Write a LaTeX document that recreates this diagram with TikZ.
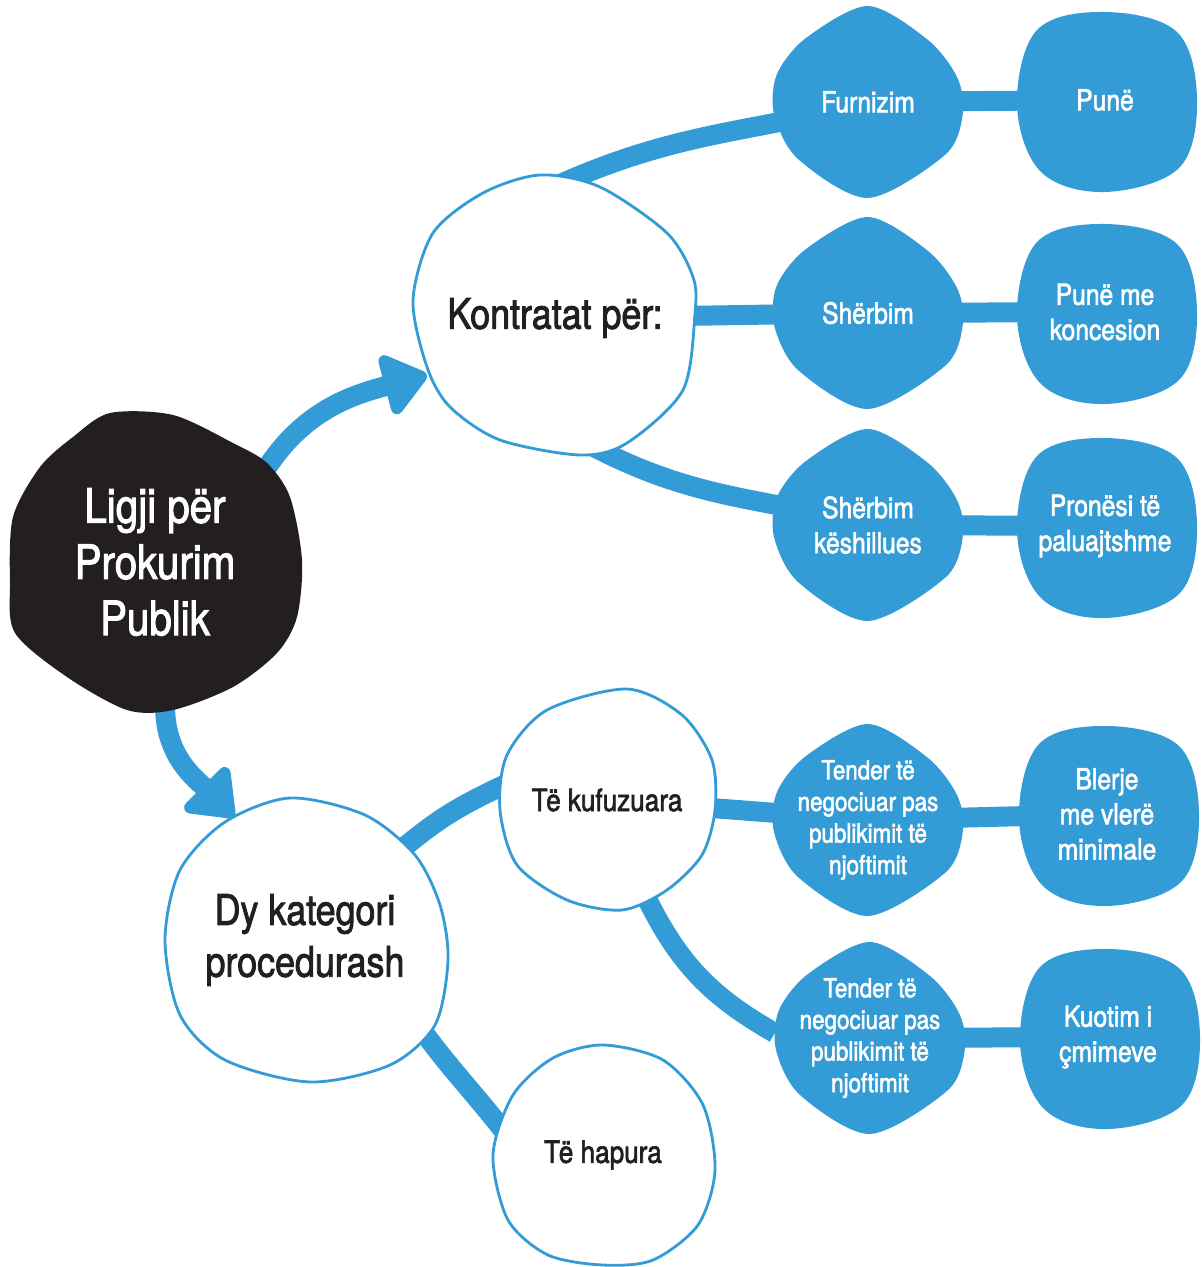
\documentclass[tikz,border=0pt]{standalone}
\usepackage{fontspec}
\setmainfont{TeX Gyre Heros}[FakeStretch=0.85, FakeBold=2]
\usepackage{tikz}
\usetikzlibrary{arrows.meta}
\definecolor{mapblue}{RGB}{51,155,214}
\definecolor{mapink}{RGB}{35,31,32}
\pgfdeclarelayer{links}
\pgfdeclarelayer{blobs}
\pgfsetlayers{links,blobs,main}

\begin{document}
\begin{tikzpicture}[
  x=0.02cm, y=0.02cm,
  every node/.style={font=\fontsize{16.5}{20}\selectfont, align=center, inner sep=0pt},
  core/.style={circle, minimum size=5.8cm, text=white, font=\fontsize{27}{32}\selectfont},
  hub/.style={circle, minimum size=5.6cm, text=mapink, font=\fontsize{24}{29.5}\selectfont},
  kind/.style={circle, minimum size=4.3cm, text=mapink, font=\fontsize{17.5}{21}\selectfont},
  leaf/.style={circle, minimum size=3.8cm, text=white},
  tender/.style={leaf, font=\fontsize{15}{18}\selectfont},
  link/.style={draw=mapblue, line width=0.4cm},
  flow/.style={link, -{Triangle[length=0.95cm, width=1.4cm, round]}},
  ring/.style={fill=white, draw=mapblue, line width=1.6pt}
]
  \useasboundingbox (0,0) rectangle (1202,-1267);

  % main nodes
  \node[core] (ligji) at (155,-562) {Ligji për\\Prokurim\\Publik};
  \node[hub] (kontr) at (555,-318) {Kontratat për:};
  \node[hub, minimum size=5.68cm] (dy) at (305,-940) {Dy kategori\\procedurash};
  \node[kind] (kufuz) at (607,-800) {Të kufuzuara};
  \node[kind] (hapura) at (603,-1155) {Të hapura};

  % contract types
  \node[leaf] (furn) at (868,-102) {Furnizim};
  \node[leaf] (pune) at (1105,-100) {Punë};
  \node[leaf] (sherb) at (868,-313) {Shërbim};
  \node[leaf] (koncesion) at (1105,-312) {Punë me\\koncesion};
  \node[leaf] (keshill) at (868,-525) {Shërbim\\këshillues};
  \node[leaf] (pronesi) at (1105,-526) {Pronësi të\\paluajtshme};

  % procedures
  \node[tender] (tend1) at (868,-820) {Tender të\\negociuar pas\\publikimit të\\njoftimit};
  \node[leaf] (blerje) at (1107,-814) {Blerje\\me vlerë\\minimale};
  \node[tender] (tend2) at (870,-1038) {Tender të\\negociuar pas\\publikimit të\\njoftimit};
  \node[leaf] (kuotim) at (1108,-1037) {Kuotim i\\çmimeve};

  \begin{pgfonlayer}{blobs}
    \fill[mapink, shift={(ligji.center)}] plot[smooth cycle] coordinates {(-45,149) (18,147) (78,119) (112,99) (135,65) (147,2) (142,-55) (122,-91) (78,-125) (18,-148) (-28,-148) (-88,-115) (-140,-71) (-145,-21) (-142,45) (-115,95) (-82,125)};
    \filldraw[ring, shift={(kontr.center)}] plot[smooth cycle] coordinates {(-15,143) (45,131) (112,85) (138,41) (140,5) (128,-72) (72,-125) (25,-137) (-55,-122) (-105,-89) (-128,-49) (-142,18) (-122,85) (-72,125)};
    \filldraw[ring, shift={(dy.center)}] plot[smooth cycle] coordinates {(-15,142) (60,125) (110,85) (135,35) (143,-20) (130,-85) (85,-125) (5,-142) (-80,-120) (-125,-75) (-140,0) (-125,70) (-80,118)};
    \filldraw[ring, shift={(kufuz.center)}] plot[smooth cycle] coordinates {(20,111) (75,85) (105,40) (108,-10) (95,-55) (60,-90) (15,-110) (-40,-100) (-90,-65) (-107,-10) (-100,45) (-60,90)};
    \filldraw[ring, shift={(hapura.center)}] plot[smooth cycle] coordinates {(0,110) (60,95) (100,50) (112,-15) (95,-70) (50,-105) (0,-110) (-55,-100) (-95,-65) (-110,0) (-90,60) (-50,97)};
    \foreach \n in {furn,sherb,keshill,tend1,tend2}
      \fill[mapblue, shift={(\n.center)}] plot[smooth cycle] coordinates {(0,96) (60,62) (89,25) (95,-10) (78,-52) (0,-96) (-70,-57) (-94,-12) (-91,28) (-62,64)};
    \foreach \n in {pune,koncesion,pronesi,blerje,kuotim}
      \fill[mapblue, shift={(\n.center)}] plot[smooth cycle, tension=0.6] coordinates {(0,88) (72,68) (92,0) (74,-68) (0,-92) (-64,-72) (-88,-5) (-68,70)};
  \end{pgfonlayer}

  \begin{pgfonlayer}{links}
    \draw[flow] (ligji.40) to[out=57, in=195] (kontr.204);
    \draw[flow] (ligji.-86) to[out=-90, in=135] (dy.120);
    \draw[link, shorten <=-8pt] (kontr.83) to[out=24, in=195] (furn.center);
    \draw[link] (kontr.center) -- (sherb.center);
    \draw[link, shorten <=-8pt] (kontr.-71) to[out=-28, in=165] (keshill.center);
    \draw[link] (furn.center) -- (pune.center);
    \draw[link] (sherb.center) -- (koncesion.center);
    \draw[link] (keshill.center) -- (pronesi.center);
    \draw[link, shorten <=-8pt, shorten >=-8pt] (dy.43) to[out=40, in=205] (kufuz.173);
    \draw[link, shorten <=-8pt, shorten >=-8pt] (dy.-37) to[out=-55, in=128] (hapura.164);
    \draw[link] (kufuz.center) -- (tend1.center);
    \draw[link, shorten <=-8pt] (kufuz.-68) to[out=-65, in=150] (tend2.177);
    \draw[link] (tend1.center) -- (blerje.center);
    \draw[link] (tend2.center) -- (kuotim.center);
  \end{pgfonlayer}
\end{tikzpicture}
\end{document}
